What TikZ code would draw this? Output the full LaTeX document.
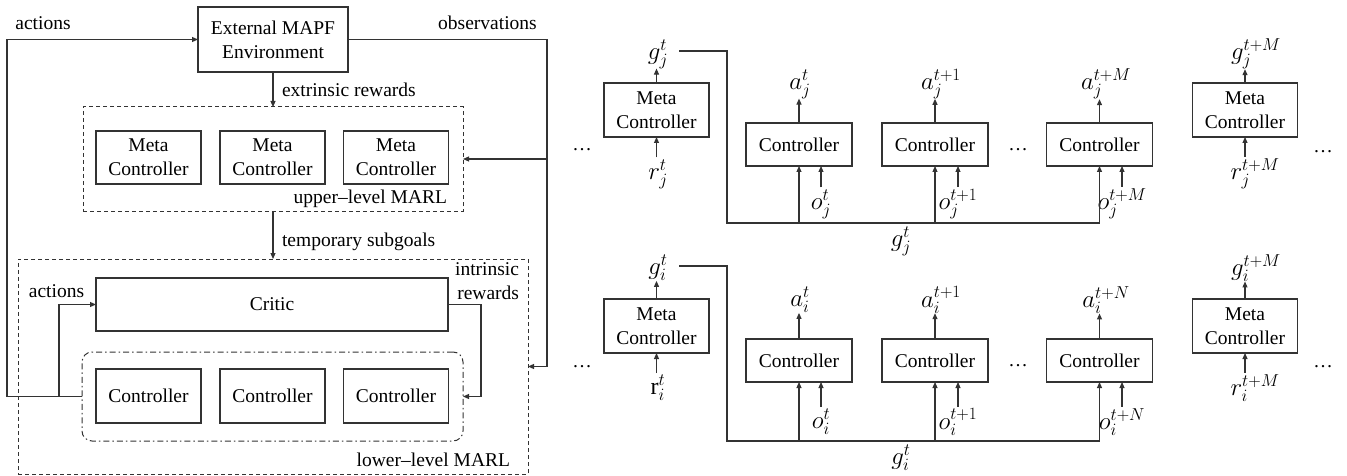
\documentclass[tikz,border=0pt]{standalone}
\usepackage{fontspec}
\setmainfont{Liberation Serif}
\usetikzlibrary{arrows.meta}
\begin{document}
\begin{tikzpicture}[x=1pt,y=-1pt,
  font=\fontsize{19.5}{24}\selectfont,
  every node/.style={inner sep=0pt, outer sep=0pt},
  box/.style={draw=black!80, line width=1.1pt, align=center},
  mbox/.style={box, minimum width=105pt, minimum height=54pt},
  cbox/.style={box, minimum width=106pt, minimum height=43pt},
  ml/.style={font=\fontsize{24}{28}\selectfont},
  ln/.style={draw=black!80, line width=1.1pt},
  arr/.style={ln, -{Triangle[length=6pt,width=5pt]}},
  dbox/.style={draw=black!80, line width=1pt, dash pattern=on 4pt off 3pt},
  ddbox/.style={draw=black!80, line width=1pt, dash pattern=on 6pt off 3pt on 1.5pt off 3pt, rounded corners=10pt}]
\useasboundingbox (0,0) rectangle (1347,476);

% ---------------- left panel ----------------
\node[box, minimum width=150pt, minimum height=65pt] (env) at (273,39.5) {External MAPF\\Environment};
\node[dbox, minimum width=380pt, minimum height=104pt] (up) at (273,159) {};
\node[mbox, minimum height=53pt] (m1) at (148.5,157.5) {Meta\\Controller};
\node[mbox, minimum height=53pt] (m2) at (272.5,157.5) {Meta\\Controller};
\node[mbox, minimum height=53pt] (m3) at (396,157.5) {Meta\\Controller};
\node[anchor=east] (uplbl) at (447,199) {upper–level MARL};

\node[dbox, minimum width=510pt, minimum height=215pt] (low) at (273,366.5) {};
\node[box, minimum width=352pt, minimum height=53pt] (critic) at (272,304.5) {Critic};
\node[ddbox, minimum width=381pt, minimum height=89pt] (grp) at (272.5,396.5) {};
\node[mbox] (c1) at (148.5,396) {Controller};
\node[mbox] (c2) at (272.5,396) {Controller};
\node[mbox] (c3) at (396,396) {Controller};
\node[anchor=east] (lowlbl) at (510,460) {lower–level MARL};

\draw[arr] (env.south) -- (up.north);
\draw[arr] (up.south) -- (low.north);
\node[anchor=west] (ext) at (282,90) {extrinsic rewards};
\node[anchor=west] (tmp) at (282,242) {temporary subgoals};

\coordinate (aL) at (7,396.5);
\coordinate (aM) at (59,396.5);
\draw[arr] (grp.west) -- (aL) |- (env.west);
\draw[arr] (aM) |- (critic.west);
\node (act1) at (43,23) {actions};
\node (act2) at (56.5,291) {actions};

\coordinate (oR) at (547,39.5);
\draw[arr] (env.east) -- (oR) |- (low.east);
\draw[arr] (oR |- up.east) -- (up.east);
\node (obs) at (487.5,23) {observations};

\coordinate (iR) at (481,304.5);
\draw[arr] (critic.east) -- (iR) |- (grp.east);
\node[anchor=east, align=right] (intr) at (519,281.5) {intrinsic\\rewards};

% ---------------- right panel, top row (j) ----------------
\node (dJ1) at (582,150) {…};
\node[mbox] (mJ) at (656.5,110) {Meta\\Controller};
\node[ml] (gJ) at (658,54) {$g_j^t$};
\node[ml] (rJ) at (658,174) {$r_j^t$};
\draw[arr] (mJ.north) -- (mJ.north |- gJ.south);
\draw[arr, shorten <=2pt] (mJ.south |- rJ.north) -- (mJ.south);

\node[cbox] (cJ1) at (799,144.5) {Controller};
\node[cbox] (cJ2) at (935,144.5) {Controller};
\node (dJm) at (1018,150) {…};
\node[cbox] (cJ3) at (1099.5,144.5) {Controller};

\node[ml] (aJ1) at (800,84) {$a_j^t$};
\node[ml] (aJ2) at (941,84) {$a_j^{t+1}$};
\node[ml] (aJ3) at (1106,84) {$a_j^{t+M}$};
\draw[arr] (cJ1.north) -- (cJ1.north |- aJ1.south);
\draw[arr] (cJ2.north) -- (cJ2.north |- aJ2.south);
\draw[arr] (cJ3.north) -- (cJ3.north |- aJ3.south);

\node[ml] (oJ1) at (821,204) {$o_j^t$};
\node[ml] (oJ2) at (958,204) {$o_j^{t+1}$};
\node[ml] (oJ3) at (1122,204) {$o_j^{t+M}$};
\draw[arr, shorten <=2pt] (oJ1.north) -- (oJ1.north |- cJ1.south);
\draw[arr, shorten <=2pt] (oJ2.north) -- (oJ2.north |- cJ2.south);
\draw[arr, shorten <=2pt] (oJ3.north) -- (oJ3.north |- cJ3.south);

\coordinate (gJs) at (679,51);
\coordinate (gJa) at (727,51);
\coordinate (gJb) at (727,223);
\draw[arr] (gJs) -- (gJa) -- (gJb) -| (cJ3.south);
\draw[arr] (cJ1.south |- gJb) -- (cJ1.south);
\draw[arr] (cJ2.south |- gJb) -- (cJ2.south);
\node[ml] (gJl) at (901,241) {$g_j^t$};

\node[mbox] (mJ2) at (1245,110) {Meta\\Controller};
\node[ml] (gJ2) at (1256,54) {$g_j^{t+M}$};
\node[ml] (rJ2) at (1255,174) {$r_j^{t+M}$};
\draw[arr] (mJ2.north) -- (mJ2.north |- gJ2.south);
\draw[arr, shorten <=2pt] (mJ2.south |- rJ2.north) -- (mJ2.south);
\node (dJR) at (1323,152) {…};

% ---------------- right panel, bottom row (i) ----------------
\node (dI1) at (582,367) {…};
\node[mbox] (mI) at (656.5,326) {Meta\\Controller};
\node[ml] (gI) at (658,268) {$g_i^t$};
\node[ml] (rI) at (658,388) {$\mathrm{r}_i^t$};
\draw[arr] (mI.north) -- (mI.north |- gI.south);
\draw[arr, shorten <=2pt] (mI.south |- rI.north) -- (mI.south);

\node[cbox] (cI1) at (799,360.5) {Controller};
\node[cbox] (cI2) at (935,360.5) {Controller};
\node (dIm) at (1018,366) {…};
\node[cbox] (cI3) at (1099.5,360.5) {Controller};

\node[ml] (aI1) at (800,300) {$a_i^t$};
\node[ml] (aI2) at (941,300) {$a_i^{t+1}$};
\node[ml] (aI3) at (1106,300) {$a_i^{t+N}$};
\draw[arr] (cI1.north) -- (cI1.north |- aI1.south);
\draw[arr] (cI2.north) -- (cI2.north |- aI2.south);
\draw[arr] (cI3.north) -- (cI3.north |- aI3.south);

\node[ml] (oI1) at (821,422) {$o_i^t$};
\node[ml] (oI2) at (958,422) {$o_i^{t+1}$};
\node[ml] (oI3) at (1122,422) {$o_i^{t+N}$};
\draw[arr, shorten <=2pt] (oI1.north) -- (oI1.north |- cI1.south);
\draw[arr, shorten <=2pt] (oI2.north) -- (oI2.north |- cI2.south);
\draw[arr, shorten <=2pt] (oI3.north) -- (oI3.north |- cI3.south);

\coordinate (gIs) at (679,266);
\coordinate (gIa) at (727,266);
\coordinate (gIb) at (727,441);
\draw[arr] (gIs) -- (gIa) -- (gIb) -| (cI3.south);
\draw[arr] (cI1.south |- gIb) -- (cI1.south);
\draw[arr] (cI2.south |- gIb) -- (cI2.south);
\node[ml] (gIl) at (901,458) {$g_i^t$};

\node[mbox] (mI2) at (1245,326) {Meta\\Controller};
\node[ml] (gI2) at (1256,268) {$g_i^{t+M}$};
\node[ml] (rI2) at (1255,388) {$r_i^{t+M}$};
\draw[arr] (mI2.north) -- (mI2.north |- gI2.south);
\draw[arr, shorten <=2pt] (mI2.south |- rI2.north) -- (mI2.south);
\node (dIR) at (1323,367) {…};
\end{tikzpicture}
\end{document}
